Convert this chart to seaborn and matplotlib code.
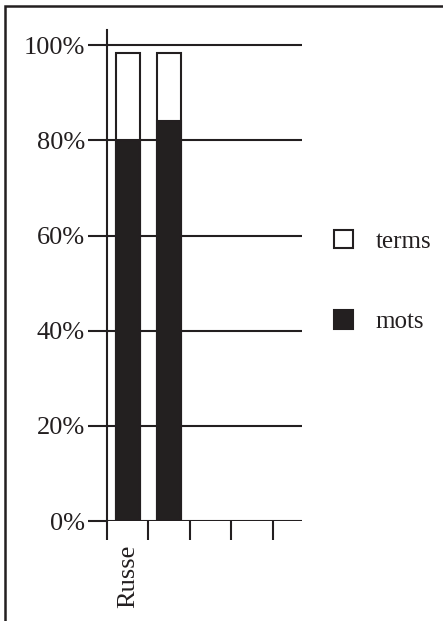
import matplotlib
matplotlib.use("Agg")
import matplotlib.pyplot as plt
from matplotlib.patches import Patch, Rectangle
import seaborn as sns
import pandas as pd

# data
langs = ["Russe", " "]
mots = [80.0, 84.0]
terms = [18.3, 14.3]
slots = langs + ["  ", "   ", "    "]   # empty category slots on the x axis
yticks = [0, 20, 40, 60, 80, 100]

ink = "#231f20"

sns.set_theme(style="white")
plt.rcParams["font.family"] = ["Liberation Serif", "DejaVu Serif"]

df = pd.DataFrame({"lang": langs, "mots": mots, "terms": terms})
df["total"] = df["mots"] + df["terms"]

fig = plt.figure(figsize=(4.43, 6.21), dpi=100)
ax = fig.add_axes([107 / 443, 1 - 540 / 621 + 19 / 621, 195 / 443, (540 - 19 - 30) / 621])

# horizontal rules first, bars on top
for v in yticks:
    ax.axhline(v, color=ink, lw=1.5, zorder=0)

sns.barplot(data=df, x="lang", y="total", order=slots, color="white",
            edgecolor=ink, linewidth=1.5, width=0.58, ax=ax, zorder=2)
sns.barplot(data=df, x="lang", y="mots", order=slots, color=ink,
            edgecolor=ink, linewidth=1.5, width=0.58, ax=ax, zorder=3)

ax.set_xlim(-0.5, 4.2)
ax.set_ylim(0, 103.2)
ax.set_xlabel("")
ax.set_ylabel("")

for s in ["top", "right", "bottom"]:
    ax.spines[s].set_visible(False)
ax.spines["left"].set_color(ink)
ax.spines["left"].set_linewidth(1.5)

ax.set_yticks(yticks)
ax.set_yticklabels([f"{v}%" for v in yticks])
ax.tick_params(axis="y", length=14, width=1.5, color=ink, pad=2,
               labelsize=19, labelcolor=ink, left=True)

# category boundaries as major ticks, labels centred via minor ticks
ax.set_xticks([-0.5, 0.5, 1.5, 2.5, 3.5])
ax.set_xticklabels([])
ax.tick_params(axis="x", which="major", length=14, width=1.5, color=ink,
               direction="out", bottom=True)
ax.set_xticks([0], minor=True)
ax.set_xticklabels([langs[0]], minor=True, rotation=90, fontsize=19,
                   color=ink, va="top")
ax.tick_params(axis="x", which="minor", length=0, pad=17, bottom=True)

handles = [Patch(facecolor="white", edgecolor=ink, linewidth=1.5),
           Patch(facecolor=ink, edgecolor=ink, linewidth=1.5)]
fig.legend(handles, ["terms", "mots"], loc="upper left",
           bbox_to_anchor=(334 / 443, 1 - 230 / 621), frameon=False,
           fontsize=18, handlelength=0.75, handleheight=0.75,
           handletextpad=0.9, labelspacing=2.3, borderpad=0,
           borderaxespad=0, labelcolor=ink)

# frame round the figure
fig.add_artist(Rectangle((5 / 443, -0.05), 1.05, 1 - 6 / 621 + 0.05,
                         transform=fig.transFigure, fill=False,
                         edgecolor=ink, linewidth=1.8))

fig.savefig("out.png", dpi=100)
